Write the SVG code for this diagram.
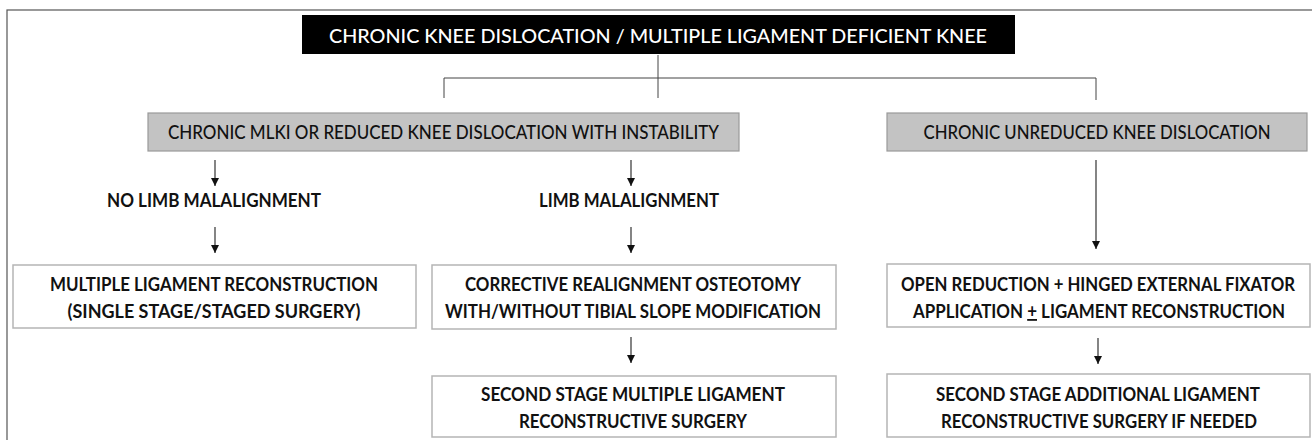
<svg xmlns="http://www.w3.org/2000/svg" width="1312" height="440" viewBox="0 0 1312 440">
<style>
.frame{fill:none;stroke:#555;stroke-width:1.2}
.title{fill:#000}
.gray{fill:#c3c3c3;stroke:#9a9a9a;stroke-width:1.2}
.box{fill:#fff;stroke:#b5b5b5;stroke-width:1.5}
.t{font-family:Lato,"Liberation Sans",sans-serif;font-size:18px;text-anchor:middle}
.tw{fill:#fff;font-size:20px;font-weight:500}
.tg{fill:#111;font-size:19px;font-weight:500}
.tb{fill:#111;font-weight:700}
.ln{fill:none;stroke:#444;stroke-width:1}
.ar{fill:none;stroke:#333;stroke-width:1.2}
</style>
<defs>
<marker id="ah" viewBox="0 0 10 10" refX="10" refY="5" markerWidth="10" markerHeight="8" markerUnits="userSpaceOnUse" orient="auto"><path d="M0,0 L10,5 L0,10 z" fill="#111"/></marker>
</defs>
<rect x="0" y="0" width="1312" height="440" fill="#fff"/>
<rect class="frame" x="7" y="10" width="1320" height="450"/>
<g id="connectors">
<line class="ln" x1="658" y1="55" x2="658" y2="98"/>
<line class="ln" x1="444" y1="78" x2="1096" y2="78"/>
<line class="ln" x1="444" y1="78" x2="444" y2="98"/>
<line class="ln" x1="1096" y1="78" x2="1096" y2="100"/>
<line class="ar" x1="215" y1="160" x2="215" y2="186" marker-end="url(#ah)"/>
<line class="ar" x1="631" y1="160" x2="631" y2="186" marker-end="url(#ah)"/>
<line class="ar" x1="215" y1="227" x2="215" y2="253" marker-end="url(#ah)"/>
<line class="ar" x1="631" y1="227" x2="631" y2="253" marker-end="url(#ah)"/>
<line class="ar" x1="1096" y1="160" x2="1096" y2="249" marker-end="url(#ah)"/>
<line class="ar" x1="631" y1="337" x2="631" y2="363" marker-end="url(#ah)"/>
<line class="ar" x1="1098" y1="338" x2="1098" y2="364" marker-end="url(#ah)"/>
</g>
<g id="n_title">
<rect class="title" x="302" y="15" width="713" height="39"/>
<text class="t tw" x="658" y="43" textLength="658" lengthAdjust="spacingAndGlyphs">CHRONIC KNEE DISLOCATION / MULTIPLE LIGAMENT DEFICIENT KNEE</text>
</g>
<g id="n_mlki">
<rect class="gray" x="148" y="113" width="591" height="38"/>
<text class="t tg" x="443.5" y="139" textLength="551" lengthAdjust="spacingAndGlyphs">CHRONIC MLKI OR REDUCED KNEE DISLOCATION WITH INSTABILITY</text>
</g>
<g id="n_unreduced">
<rect class="gray" x="887" y="113" width="420" height="38"/>
<text class="t tg" x="1097" y="139" textLength="347" lengthAdjust="spacingAndGlyphs">CHRONIC UNREDUCED KNEE DISLOCATION</text>
</g>
<g id="n_nomal">
<text class="t tb" x="214" y="207" textLength="214" lengthAdjust="spacingAndGlyphs">NO LIMB MALALIGNMENT</text>
</g>
<g id="n_mal">
<text class="t tb" x="629" y="207" textLength="180" lengthAdjust="spacingAndGlyphs">LIMB MALALIGNMENT</text>
</g>
<g id="n_mlr">
<rect class="box" x="13" y="265" width="403" height="63"/>
<text class="t tb" x="214" y="291" textLength="328" lengthAdjust="spacingAndGlyphs">MULTIPLE LIGAMENT RECONSTRUCTION</text>
<text class="t tb" x="214" y="318" textLength="293" lengthAdjust="spacingAndGlyphs">(SINGLE STAGE/STAGED SURGERY)</text>
</g>
<g id="n_osteo">
<rect class="box" x="432" y="265" width="404" height="64"/>
<text class="t tb" x="633" y="291" textLength="336" lengthAdjust="spacingAndGlyphs">CORRECTIVE REALIGNMENT OSTEOTOMY</text>
<text class="t tb" x="633" y="318" textLength="376" lengthAdjust="spacingAndGlyphs">WITH/WITHOUT TIBIAL SLOPE MODIFICATION</text>
</g>
<g id="n_open">
<rect class="box" x="887" y="264" width="423" height="63"/>
<text class="t tb" x="1098" y="291" textLength="394" lengthAdjust="spacingAndGlyphs">OPEN REDUCTION + HINGED EXTERNAL FIXATOR</text>
<text class="t tb" x="1099" y="318" textLength="372" lengthAdjust="spacingAndGlyphs">APPLICATION <tspan text-decoration="underline">+</tspan> LIGAMENT RECONSTRUCTION</text>
</g>
<g id="n_second1">
<rect class="box" x="432" y="376" width="404" height="61"/>
<text class="t tb" x="633" y="401" textLength="304" lengthAdjust="spacingAndGlyphs">SECOND STAGE MULTIPLE LIGAMENT</text>
<text class="t tb" x="633" y="428" textLength="228" lengthAdjust="spacingAndGlyphs">RECONSTRUCTIVE SURGERY</text>
</g>
<g id="n_second2">
<rect class="box" x="887" y="374" width="423" height="63"/>
<text class="t tb" x="1098" y="401" textLength="324" lengthAdjust="spacingAndGlyphs">SECOND STAGE ADDITIONAL LIGAMENT</text>
<text class="t tb" x="1099" y="428" textLength="316" lengthAdjust="spacingAndGlyphs">RECONSTRUCTIVE SURGERY IF NEEDED</text>
</g>
</svg>
